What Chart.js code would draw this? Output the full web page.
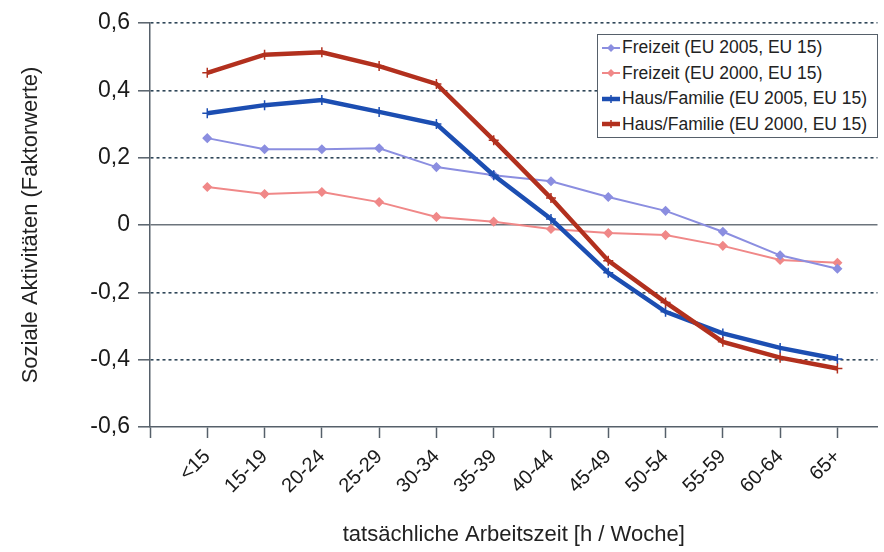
<!DOCTYPE html>
<html>
<head>
<meta charset="utf-8">
<script src="https://cdn.jsdelivr.net/npm/chart.js@4/dist/chart.umd.min.js"></script>
<style>
  body { margin: 0; background: #fff; }
  #wrap { position: relative; width: 884px; height: 552px; }
  #legend {
    position: absolute; left: 597px; top: 34px; width: 279px; height: 102px;
    border: 1.5px solid #56606a; background: #fff;
    font-family: "Liberation Sans", Arial, sans-serif; font-size: 17.5px; color: #222;
  }
  .row { height: 25.5px; display: flex; align-items: center; white-space: nowrap; }
  .row svg { margin-left: 4px; margin-right: 2px; }
</style>
</head>
<body>
<div id="wrap">
  <canvas id="chart" width="884" height="552"></canvas>
  <div id="legend"></div>
</div>
<script>
// categories (working hours per week)
const categories = ['<15', '15-19', '20-24', '25-29', '30-34', '35-39', '40-44', '45-49', '50-54', '55-59', '60-64', '65+'];

// factor values
const freizeit2005 = [0.258, 0.225, 0.225, 0.228, 0.172, 0.148, 0.130, 0.083, 0.042, -0.020, -0.090, -0.130];
const freizeit2000 = [0.113, 0.092, 0.098, 0.068, 0.024, 0.010, -0.012, -0.024, -0.030, -0.062, -0.104, -0.112];
const haus2005 = [0.332, 0.356, 0.371, 0.336, 0.300, 0.148, 0.018, -0.142, -0.258, -0.322, -0.365, -0.398];
const haus2000 = [0.452, 0.506, 0.513, 0.472, 0.419, 0.252, 0.080, -0.106, -0.230, -0.347, -0.394, -0.426];

const yTicks = [-0.6, -0.4, -0.2, 0, 0.2, 0.4, 0.6];

const axisColor = '#56606a';
const gridColor = '#2f4658';

Chart.defaults.font.family = '"Liberation Sans", Arial, sans-serif';

const toPoints = vals => vals.map((v, i) => ({ x: i + 1, y: v }));

const series = [
    { label: 'Freizeit (EU 2005, EU 15)', values: freizeit2005, color: '#8b8ee0', width: 2, point: 'rectRot', radius: 4, order: 3 },
    { label: 'Freizeit (EU 2000, EU 15)', values: freizeit2000, color: '#f08888', width: 2, point: 'rectRot', radius: 4, order: 4 },
    { label: 'Haus/Familie (EU 2005, EU 15)', values: haus2005, color: '#1c4eb2', width: 4.5, point: 'cross', radius: 5, order: 2 },
    { label: 'Haus/Familie (EU 2000, EU 15)', values: haus2000, color: '#b2301e', width: 4.5, point: 'cross', radius: 5, order: 1 }
];

const ctx = document.getElementById('chart').getContext('2d');
const chart = new Chart(ctx, {
    type: 'line',
    data: {
        datasets: series.map(s => ({
            label: s.label,
            data: toPoints(s.values),
            borderColor: s.color,
            backgroundColor: s.color,
            borderWidth: s.width,
            pointStyle: s.point,
            pointRadius: s.radius,
            pointBorderWidth: 1.5,
            pointBorderColor: s.color,
            pointBackgroundColor: s.color,
            tension: 0,
            fill: false,
            order: s.order
        }))
    },
    options: {
        responsive: false,
        animation: false,
        layout: { padding: { top: 23, right: 4, bottom: 0, left: 0 } },
        plugins: {
            legend: { display: false },
            tooltip: { enabled: false }
        },
        scales: {
            x: {
                type: 'linear',
                min: 0,
                max: 12.7,
                afterBuildTicks: s => { s.ticks = categories.map((c, i) => ({ value: i })).concat([{ value: categories.length }]); },
                ticks: {
                    autoSkip: false,
                    includeBounds: false,
                    maxRotation: 45,
                    minRotation: 45,
                    padding: 7,
                    color: '#1a1a1a',
                    font: { size: 20 },
                    callback: v => categories[Math.round(v) - 1] || ''
                },
                grid: { drawOnChartArea: false, drawTicks: true, tickLength: 11, tickColor: axisColor, tickWidth: 1.5 },
                border: { color: axisColor, width: 1.5 },
                title: {
                    display: true,
                    text: 'tatsächliche Arbeitszeit [h / Woche]',
                    color: '#222',
                    font: { size: 22 },
                    padding: { top: 0, bottom: 4 }
                },
                afterFit: s => { s.height = 125; }
            },
            y: {
                min: -0.6,
                max: 0.6,
                afterBuildTicks: s => { s.ticks = yTicks.map(v => ({ value: v })); },
                ticks: {
                    padding: 8,
                    color: '#1a1a1a',
                    font: { size: 23 },
                    callback: v => Math.abs(v) < 1e-9 ? '0' : v.toFixed(1).replace('.', ',')
                },
                grid: {
                    color: c => {
                        if (!c.tick) return gridColor;
                        if (c.tick.value < -0.59) return 'rgba(0,0,0,0)';
                        if (Math.abs(c.tick.value) < 1e-9) return '#6c747c';
                        return gridColor;
                    },
                    lineWidth: 1.6,
                    tickLength: 12,
                    tickColor: axisColor,
                    tickWidth: 1.5
                },
                border: {
                    color: axisColor,
                    width: 1.5,
                    dash: c => (c.tick && Math.abs(c.tick.value) > 1e-9) ? [3, 3] : []
                },
                title: {
                    display: true,
                    text: 'Soziale Aktivitäten (Faktorwerte)',
                    color: '#222',
                    font: { size: 22 },
                    padding: { top: 18, bottom: 0 }
                },
                afterFit: s => { s.width = 150; }
            }
        }
    }
});

// legend box inside the plot, built from the same series
const legendEl = document.getElementById('legend');
series.forEach(s => {
    const row = document.createElement('div');
    row.className = 'row';
    const marker = s.point === 'rectRot'
        ? `<polygon points="9,2 13,6 9,10 5,6" fill="${s.color}"/>`
        : `<line x1="9" y1="2" x2="9" y2="10" stroke="${s.color}" stroke-width="1.5"/>`;
    row.innerHTML = `<svg width="18" height="12"><line x1="0" y1="6" x2="18" y2="6" stroke="${s.color}" stroke-width="${s.width}"/>${marker}</svg><span>${s.label}</span>`;
    legendEl.appendChild(row);
});
</script>
</body>
</html>
